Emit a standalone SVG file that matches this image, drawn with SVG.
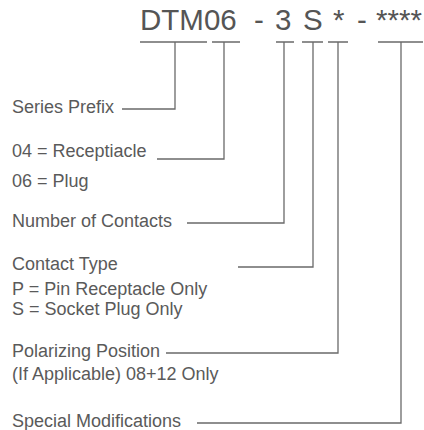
<svg xmlns="http://www.w3.org/2000/svg" width="424" height="430" viewBox="0 0 424 430">
<style>
.hd{font-family:"Liberation Sans",Arial,sans-serif;font-size:29.5px;fill:#555}
.lb{font-family:"Liberation Sans",Arial,sans-serif;font-size:18px;fill:#5a5a5a}
.ln{fill:none;stroke:#6a6a6a;stroke-width:1.3}
</style>
<rect width="424" height="430" fill="#ffffff"/>
<g id="header">
<text class="hd" y="30"><tspan x="140">DTM06</tspan><tspan x="254">-</tspan><tspan x="275">3</tspan><tspan x="303">S</tspan><tspan x="333">*</tspan><tspan x="357">-</tspan><tspan x="376">****</tspan></text>
</g>
<g id="series-prefix"><text class="lb" x="12" y="113">Series Prefix</text></g>
<g id="receptacle-plug"><text class="lb" x="12" y="157">04 = Receptiacle</text><text class="lb" x="12" y="187">06 = Plug</text></g>
<g id="number-of-contacts"><text class="lb" x="12" y="227">Number of Contacts</text></g>
<g id="contact-type"><text class="lb" x="12" y="270">Contact Type</text><text class="lb" x="12" y="295">P = Pin Receptacle Only</text><text class="lb" x="12" y="315">S = Socket Plug Only</text></g>
<g id="polarizing-position"><text class="lb" x="12" y="357">Polarizing Position</text><text class="lb" x="12" y="380">(If Applicable) 08+12 Only</text></g>
<g id="special-modifications"><text class="lb" x="12" y="427">Special Modifications</text></g>
<g id="connectors" class="ln">
<path d="M140 42H207M175 42V109H122"/>
<path d="M212 42H240M224 42V159H157"/>
<path d="M276 42H294M284 42V223H187"/>
<path d="M302 42H323M313 42V267H238"/>
<path d="M328 42H348M338 42V353H166"/>
<path d="M378 42H423M401 42V423H197"/>
</g>
</svg>
